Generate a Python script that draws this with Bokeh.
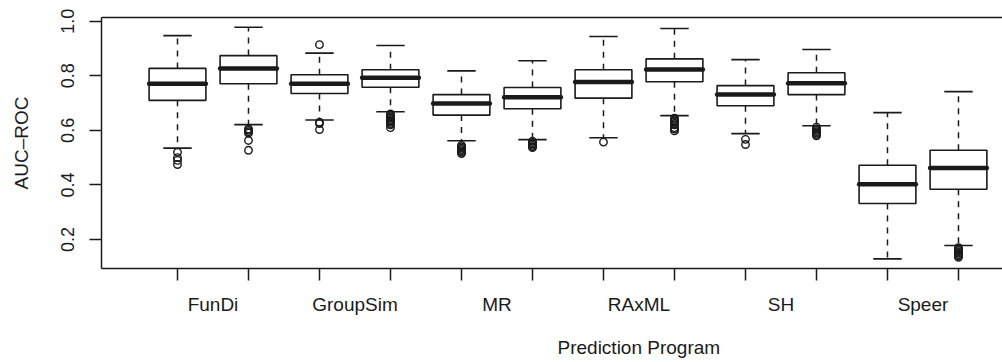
from bokeh.plotting import figure
from bokeh.models import Range1d, FixedTicker, LinearAxis, Title
from bokeh.embed import file_html
from bokeh.resources import INLINE

# Six prediction programs, two boxes each
programs = ["FunDi", "GroupSim", "MR", "RAxML", "SH", "Speer"]

# Five-number summaries for the twelve boxes (left to right)
whisker_hi = [0.947, 0.978, 0.883, 0.911, 0.818, 0.855, 0.944, 0.973, 0.859, 0.896, 0.665, 0.742]
q3 = [0.827, 0.874, 0.804, 0.822, 0.731, 0.757, 0.822, 0.862, 0.764, 0.811, 0.472, 0.527]
medians = [0.771, 0.827, 0.771, 0.793, 0.698, 0.721, 0.777, 0.823, 0.731, 0.773, 0.403, 0.462]
q1 = [0.710, 0.771, 0.735, 0.758, 0.656, 0.679, 0.718, 0.778, 0.690, 0.731, 0.332, 0.384]
whisker_lo = [0.535, 0.621, 0.638, 0.668, 0.562, 0.566, 0.573, 0.654, 0.588, 0.617, 0.129, 0.178]

# Outlying values per box
outliers = [
    [0.52, 0.50, 0.49, 0.475],
    [0.605, 0.60, 0.595, 0.59, 0.563, 0.527],
    [0.914, 0.63, 0.625, 0.603],
    [0.66, 0.655, 0.65, 0.645, 0.64, 0.635, 0.63, 0.625, 0.62, 0.61],
    [0.545, 0.54, 0.535, 0.53, 0.525, 0.52, 0.515],
    [0.56, 0.555, 0.55, 0.545, 0.54, 0.537],
    [0.557],
    [0.645, 0.64, 0.635, 0.63, 0.625, 0.62, 0.61, 0.605, 0.598],
    [0.567, 0.548],
    [0.612, 0.605, 0.60, 0.595, 0.59, 0.585, 0.58],
    [],
    [0.17, 0.165, 0.16, 0.155, 0.15, 0.145, 0.14, 0.135],
]

y_ticks = [0.2, 0.4, 0.6, 0.8, 1.0]
y_tick_labels = ["0.2", "0.4", "0.6", "0.8", "1.0"]

INK = "#1a1a1a"
FONT = "Liberation Sans"

positions = list(range(1, len(medians) + 1))
half_box = 0.4
half_cap = 0.2

p = figure(
    width=1002, height=362,
    x_range=Range1d(-0.0704, 12.62),
    y_range=Range1d(0.0939, 1.0135),
    output_backend="svg", toolbar_location=None,
    min_border_left=101, min_border_right=0,
    min_border_top=17, min_border_bottom=94,
    x_axis_location=None, y_axis_location=None,
)
p.outline_line_color = None
p.grid.visible = False
p.background_fill_color = "white"
p.border_fill_color = "white"

# Whiskers (dashed) from box edges to caps
p.segment(x0=positions, x1=positions, y0=q3, y1=whisker_hi,
          line_color=INK, line_width=1.5, line_dash="6 6")
p.segment(x0=positions, x1=positions, y0=q1, y1=whisker_lo,
          line_color=INK, line_width=1.5, line_dash="6 6")

# Whisker caps
p.segment(x0=[x - half_cap for x in positions], x1=[x + half_cap for x in positions],
          y0=whisker_hi, y1=whisker_hi, line_color=INK, line_width=1.6)
p.segment(x0=[x - half_cap for x in positions], x1=[x + half_cap for x in positions],
          y0=whisker_lo, y1=whisker_lo, line_color=INK, line_width=1.6)

# Boxes
p.quad(left=[x - half_box for x in positions], right=[x + half_box for x in positions],
       bottom=q1, top=q3, fill_color="white", line_color=INK, line_width=1.6)

# Medians
p.segment(x0=[x - half_box for x in positions], x1=[x + half_box for x in positions],
          y0=medians, y1=medians, line_color=INK, line_width=4.5, line_cap="round")

# Outlier circles
ox, oy = [], []
for pos, vals in zip(positions, outliers):
    for v in vals:
        ox.append(pos)
        oy.append(v)
p.scatter(x=ox, y=oy, marker="circle", size=7.5, fill_color=None,
          line_color=INK, line_width=1.4)

# Left axis
yaxis = LinearAxis(ticker=FixedTicker(ticks=y_ticks),
                   major_label_overrides=dict(zip(y_ticks, y_tick_labels)),
                   axis_label="AUC–ROC")
yaxis.axis_line_color = INK
yaxis.axis_line_width = 1.5
yaxis.major_tick_line_color = INK
yaxis.major_tick_line_width = 1.5
yaxis.major_tick_out = 12
yaxis.major_tick_in = 0
yaxis.minor_tick_line_color = None
yaxis.major_label_orientation = "parallel"
yaxis.major_label_standoff = 15
yaxis.major_label_text_font = FONT
yaxis.major_label_text_font_size = "18px"
yaxis.major_label_text_color = INK
yaxis.axis_label_text_font = FONT
yaxis.axis_label_text_font_size = "19px"
yaxis.axis_label_text_font_style = "normal"
yaxis.axis_label_text_color = INK
yaxis.axis_label_standoff = 27
p.add_layout(yaxis, "left")

# Bottom axis: tick marks under each box, names centred under each pair;
# a blank axis label leaves room before the x-axis title
group_centres = [2 * i + 1.5 for i in range(len(programs))]
xaxis = LinearAxis(ticker=FixedTicker(ticks=group_centres, minor_ticks=positions),
                   major_label_overrides=dict(zip(group_centres, programs)),
                   axis_label=" ")
xaxis.axis_line_color = INK
xaxis.axis_line_width = 1.5
xaxis.major_tick_line_color = None
xaxis.major_tick_out = 0
xaxis.major_tick_in = 0
xaxis.minor_tick_line_color = INK
xaxis.minor_tick_line_width = 1.5
xaxis.minor_tick_out = 12
xaxis.minor_tick_in = 0
xaxis.major_label_standoff = 13
xaxis.major_label_text_font = FONT
xaxis.major_label_text_font_size = "19px"
xaxis.major_label_text_color = INK
xaxis.axis_label_text_font_size = "1px"
xaxis.axis_label_standoff = 13
p.add_layout(xaxis, "below")

# Top edge of the plotting frame
top = LinearAxis(ticker=FixedTicker(ticks=[]))
top.axis_line_color = INK
top.axis_line_width = 1.5
top.major_tick_line_color = None
top.minor_tick_line_color = None
top.major_label_text_font_size = "0px"
top.major_label_standoff = 0
p.add_layout(top, "above")

# x-axis title, placed under the RAxML pair
p.add_layout(Title(text="Prediction Program", align="left", offset=456,
                   vertical_align="top",
                   text_font=FONT, text_font_size="19px", text_font_style="normal",
                   text_color=INK, standoff=5), "below")

open("out.html", "w").write(file_html(p, INLINE))
